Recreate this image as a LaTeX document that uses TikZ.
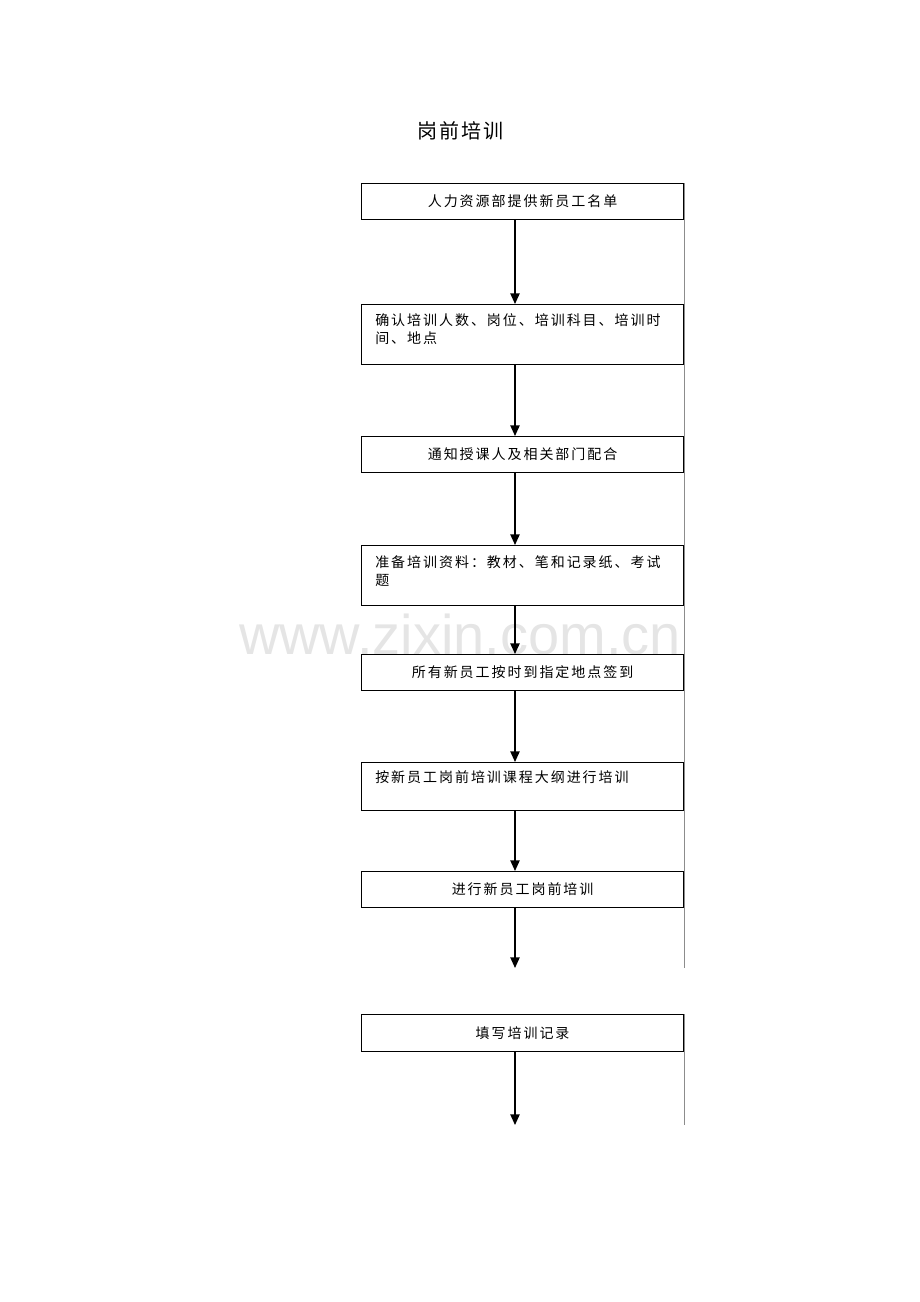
\documentclass[tikz,border=0pt]{standalone}
\usepackage{fontspec}
\newfontfamily\cjk[LetterSpace=14]{Noto Sans CJK SC}
\newfontfamily\cjktitle[LetterSpace=10]{Noto Sans CJK SC}
\newfontfamily\wmfont{Liberation Sans}
\usetikzlibrary{arrows.meta, positioning}
\tikzstyle{stepbox} = [
	rectangle,
	anchor=north west,
	minimum width=241.5pt,
	inner sep=0pt,
	draw=black,
	line width=0.9pt
]
\tikzstyle{boxtext} = [
	font=\cjk\fontsize{10.5}{13.5}\selectfont,
	inner sep=0pt
]
\tikzstyle{lefttext} = [
	boxtext,
	anchor=north west,
	align=left
]
\tikzstyle{arrow} = [line width=1pt,->,>={Triangle[width=7pt,length=8pt]}]
\tikzstyle{edge} = [draw=black!45, line width=0.6pt]

\begin{document}
\begin{tikzpicture}[x=0.75pt, y=-0.75pt]
		\useasboundingbox (0,0) rectangle (920,1302);

		% watermark
		\node (wm) [font=\wmfont\fontsize{42}{42}\selectfont, text=black!10, inner sep=0pt] at (460,634) {www.zixin.com.cn};

		\node (title) [font=\cjktitle\fontsize{15}{18}\selectfont, inner sep=0pt] at (460,131) {岗前培训};

		\node (list) [stepbox, minimum height=27pt] at (361,183) {};
		\node (confirm) [stepbox, minimum height=45pt] at (361,304) {};
		\node (notify) [stepbox, minimum height=27pt] at (361,436) {};
		\node (prepare) [stepbox, minimum height=45pt] at (361,545) {};
		\node (signin) [stepbox, minimum height=27pt] at (361,654) {};
		\node (outline) [stepbox, minimum height=36pt] at (361,762) {};
		\node (train) [stepbox, minimum height=27pt] at (361,871) {};
		\node (record) [stepbox, minimum height=27.75pt] at (361,1014) {};

		\node (listtext) [boxtext] at (list.center) {人力资源部提供新员工名单};
		\node (confirmtext) [lefttext] at (375,313) {确认培训人数、岗位、培训科目、培训时\\间、地点};
		\node (notifytext) [boxtext] at (notify.center) {通知授课人及相关部门配合};
		\node (preparetext) [lefttext] at (375,555) {准备培训资料：教材、笔和记录纸、考试\\题};
		\node (signintext) [boxtext] at (signin.center) {所有新员工按时到指定地点签到};
		\node (outlinetext) [lefttext] at (375,770) {按新员工岗前培训课程大纲进行培训};
		\node (traintext) [boxtext] at (train.center) {进行新员工岗前培训};
		\node (recordtext) [boxtext] at (record.center) {填写培训记录};

		\coordinate (ax) at (515,0);
		\coordinate (trainend) at (515,968);
		\coordinate (recordend) at (515,1125);

		\draw [arrow] (list.south -| ax) -- (confirm.north -| ax);
		\draw [arrow] (confirm.south -| ax) -- (notify.north -| ax);
		\draw [arrow] (notify.south -| ax) -- (prepare.north -| ax);
		\draw [arrow] (prepare.south -| ax) -- (signin.north -| ax);
		\draw [arrow] (signin.south -| ax) -- (outline.north -| ax);
		\draw [arrow] (outline.south -| ax) -- (train.north -| ax);
		\draw [arrow] (train.south -| ax) -- (trainend);
		\draw [arrow] (record.south -| ax) -- (recordend);

		\draw [edge] (list.north east) -- (trainend -| list.east);
		\draw [edge] (record.north east) -- (recordend -| record.east);
	\end{tikzpicture}
\end{document}
